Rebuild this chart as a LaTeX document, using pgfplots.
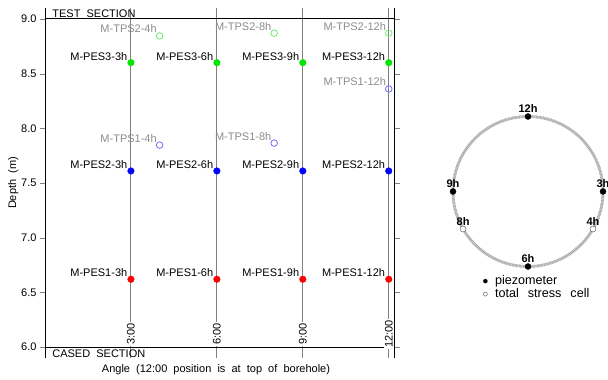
\documentclass[border=0pt]{standalone}
\usepackage{pgfplots}
\pgfplotsset{compat=1.18}
\usepackage{fontspec}
\setmainfont{Liberation Sans}

\definecolor{pesgreen}{RGB}{0,230,0}
\definecolor{pesblue}{RGB}{0,0,255}
\definecolor{pesred}{RGB}{255,0,0}
\definecolor{tpsgreen}{RGB}{110,235,110}
\definecolor{tpsblue}{RGB}{110,110,255}
\definecolor{tpsgray}{RGB}{140,140,140}
\definecolor{guide}{RGB}{128,128,128}

\newcommand\lbl{\fontsize{11}{13}\selectfont}
\newcommand\legfont{\fontsize{12.6}{14}\selectfont}

% labels of the piezometers: left of the point
\pgfplotsset{
  peslabel/.style={
    nodes near coords, point meta=explicit symbolic,
    every node near coord/.append style={anchor=base east, inner sep=0pt,
      xshift=-3.5pt, yshift=2.5pt, text=black, font=\lbl}},
  tpslabel/.style={
    nodes near coords, point meta=explicit symbolic,
    every node near coord/.append style={anchor=base east, inner sep=0pt,
      xshift=-2.5pt, yshift=3pt, text=tpsgray, font=\lbl}},
  clocklabel/.style={
    nodes near coords, point meta=explicit symbolic,
    every node near coord/.append style={anchor=base, inner sep=0pt,
      yshift=3.5pt, text=black, font=\lbl\bfseries}},
}

\begin{document}
\begin{tikzpicture}
\useasboundingbox (0,0) rectangle (608pt,380pt);

% ---------------- depth / angle layout ----------------
\begin{axis}[
  at={(45pt,22pt)}, anchor=south west,
  scale only axis, width=349.5pt, height=350pt,
  xmin=0, xmax=12.2, ymin=5.9, ymax=9.1,
  separate axis lines,
  axis x line=none, axis y line=box,
  xtick=\empty,
  ytick={6,6.5,...,9},
  tick align=outside,
  major tick length=5pt,
  yticklabel pos=left,
  y tick label style={font=\lbl, /pgf/number format/.cd, fixed, fixed zerofill, precision=1, assume math mode=true},
  ylabel={Depth\ \ (m)},
  ylabel style={font=\lbl},
  ylabel shift=-4pt,
  clip=false,
  axis line style={line width=0.8pt},
]
% borehole angle guides
\addplot[guide, line width=0.9pt] coordinates {(3,5.9) (3,9.1)};
\addplot[guide, line width=0.9pt] coordinates {(6,5.9) (6,9.1)};
\addplot[guide, line width=0.9pt] coordinates {(9,5.9) (9,9.1)};
\addplot[guide, line width=0.9pt] coordinates {(12,5.9) (12,9.1)};
% section boundaries
\addplot[black, line width=1pt] coordinates {(0,9) (12.2,9)};
\addplot[black, line width=1pt] coordinates {(0,6) (12.2,6)};

\node[anchor=base west, inner sep=0pt, font=\lbl] at (axis cs:0.25,9) [yshift=1.8pt] {TEST\ \ SECTION};
\node[anchor=base west, inner sep=0pt, font=\lbl] at (axis cs:0.25,6) [yshift=-10.5pt] {CASED\ \ SECTION};

\foreach \h/\t in {3/3:00, 6/6:00, 9/9:00, 12/12:00}{
  \edef\tmp{\noexpand\node[rotate=90, fill=white, inner sep=1pt, font=\noexpand\lbl] at (axis cs:\h,6.12) {\t};}
  \tmp
}

% piezometers
\addplot[only marks, mark=*, mark size=3.3pt, draw=pesgreen, fill=pesgreen, peslabel]
  coordinates {(3,8.60)[M-PES3-3h] (6,8.60)[M-PES3-6h] (9,8.60)[M-PES3-9h] (12,8.60)[M-PES3-12h]};
\addplot[only marks, mark=*, mark size=3.3pt, draw=pesblue, fill=pesblue, peslabel]
  coordinates {(3,7.61)[M-PES2-3h] (6,7.61)[M-PES2-6h] (9,7.61)[M-PES2-9h] (12,7.61)[M-PES2-12h]};
\addplot[only marks, mark=*, mark size=3.3pt, draw=pesred, fill=pesred, peslabel]
  coordinates {(3,6.62)[M-PES1-3h] (6,6.62)[M-PES1-6h] (9,6.62)[M-PES1-9h] (12,6.62)[M-PES1-12h]};
% total stress cells
\addplot[only marks, mark=o, mark size=3.3pt, draw=tpsgreen, line width=0.8pt, tpslabel]
  coordinates {(4,8.845)[M-TPS2-4h] (8,8.87)[M-TPS2-8h] (12,8.87)[M-TPS2-12h]};
\addplot[only marks, mark=o, mark size=3.3pt, draw=tpsblue, line width=0.8pt, tpslabel]
  coordinates {(4,7.847)[M-TPS1-4h] (8,7.865)[M-TPS1-8h] (12,8.36)[M-TPS1-12h]};
\end{axis}

\node[font=\lbl, anchor=base] at (216pt,7pt) {Angle\ \ (12:00\ \ position\ \ is\ \ at\ \ top\ \ of\ \ borehole)};

% ---------------- borehole cross-section ----------------
\begin{axis}[
  at={(438pt,98.5pt)}, anchor=south west,
  scale only axis, width=180pt, height=180pt,
  xmin=-1.2, xmax=1.2, ymin=-1.2, ymax=1.2,
  hide axis, clip=false,
  legend style={draw=none, fill=none, at={(0.247,0.035)}, anchor=north west,
    font=\legfont, inner sep=0pt, row sep=1.5pt,
    nodes={inner sep=0pt, text height=9pt, text depth=2.5pt}},
  legend image code/.code={\draw[#1] plot coordinates {(0pt,0pt)}; \path (-2.5pt,0pt) (9.5pt,0pt);},
  legend cell align=left,
]
\draw[gray!35, line width=2.8pt] (axis cs:0,0) circle[radius=1];
\draw[gray!75, line width=2.8pt, dash pattern=on 0.5pt off 0.9pt] (axis cs:0,0) circle[radius=1];

\addlegendimage{only marks, mark=*, mark size=2pt, black}
\addlegendimage{only marks, mark=o, mark size=2pt, black!70}

\addplot[only marks, mark=*, mark size=3pt, black, clocklabel, forget plot]
  coordinates {(0,1)[12h] (1,0)[3h] (0,-1)[6h] (-1,0)[9h]};
\addplot[only marks, mark=*, mark size=3pt, draw=black!70, fill=white, clocklabel, forget plot]
  coordinates {(0.866,-0.5)[4h] (-0.866,-0.5)[8h]};

\legend{piezometer, total\hspace{9pt}stress\hspace{9pt}cell}
\end{axis}
\end{tikzpicture}
\end{document}
